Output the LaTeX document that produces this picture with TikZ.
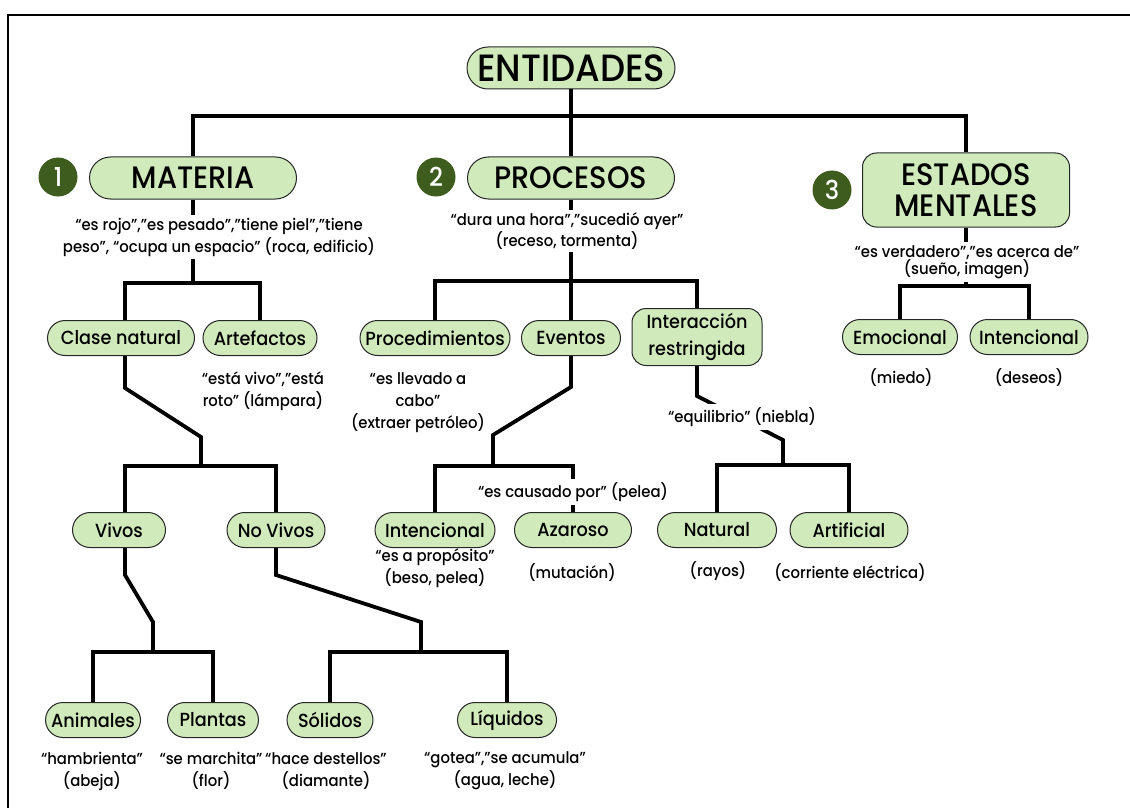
\documentclass[tikz,border=0pt]{standalone}
\usepackage{fontspec}
\setmainfont{Poppins Medium}[FakeStretch=0.93]
\usetikzlibrary{shapes.misc}
\definecolor{hojaverde}{RGB}{208,234,188}
\definecolor{verdeoscuro}{RGB}{62,92,30}

\begin{document}
\begin{tikzpicture}[x=0.5pt,y=-0.5pt,
	every node/.style={inner sep=0pt},
	pill/.style={rounded rectangle, draw=black!85, line width=0.5pt, fill=hojaverde, font=\fontsize{9.5}{11}\selectfont, minimum height=17.5pt},
	bigpill/.style={pill, font=\fontsize{15.5}{18}\selectfont, minimum height=21pt, minimum width=103.5pt},
	roundbox/.style={rectangle, rounded corners=7pt, draw=black!85, line width=0.5pt, fill=hojaverde, align=center},
	nota/.style={align=center, font=\fontsize{8}{11}\selectfont},
	notaapretada/.style={nota, font=\fontsize{8}{8.6}\selectfont},
	sobre/.style={fill=white, inner sep=1.5pt},
	rama/.style={line width=1.9pt},
	numero/.style={circle, fill=verdeoscuro, text=white, minimum size=19.5pt, font=\fontsize{13}{13}\selectfont}]
	\useasboundingbox (0,0) rectangle (1130,808);
	\draw[line width=1.3pt] (8,808) -- (8,15) -- (1130,15);

	\node[bigpill, font=\fontsize{19}{22}\selectfont, minimum width=104pt] (entidades) at (571,68) {ENTIDADES};
	\node[bigpill] (materia) at (193,178) {MATERIA};
	\node[bigpill] (procesos) at (571,178) {PROCESOS};
	\node[roundbox, font=\fontsize{15.5}{15.5}\selectfont, minimum width=103.5pt, minimum height=37pt] (estados) at (966,190) {ESTADOS\\MENTALES};
	\foreach \n/\x/\y in {1/58/177, 2/436/177, 3/832/190}
		\node[numero] (num\n) at (\x,\y) {\n};

	\node[pill, minimum width=73.5pt] (clase) at (121,338) {Clase natural};
	\node[pill, minimum width=57pt] (artefactos) at (260,338) {Artefactos};
	\node[pill, minimum width=75pt] (procedimientos) at (435,338) {Procedimientos};
	\node[pill, minimum width=49.5pt] (eventos) at (571,338) {Eventos};
	\node[roundbox, font=\fontsize{9.5}{13.5}\selectfont, minimum width=65pt, minimum height=28.5pt] (interaccion) at (697,337) {Interacción\\restringida};
	\node[pill, minimum width=57.5pt] (emocional) at (900,337) {Emocional};
	\node[pill, minimum width=59pt] (intencionalm) at (1029,337) {Intencional};

	\node[pill, minimum width=46.5pt] (vivos) at (119,530) {Vivos};
	\node[pill, minimum width=49pt] (novivos) at (276,530) {No Vivos};
	\node[pill, minimum width=60pt] (intencionalp) at (435,530) {Intencional};
	\node[pill, minimum width=58.5pt] (azaroso) at (573,530) {Azaroso};
	\node[pill, minimum width=59.5pt] (natural) at (717,530) {Natural};
	\node[pill, minimum width=59pt] (artificial) at (849,530) {Artificial};

	\node[pill, minimum width=47.5pt] (animales) at (93,720) {Animales};
	\node[pill, minimum width=45.5pt] (plantas) at (213,720) {Plantas};
	\node[pill, minimum width=43pt] (solidos) at (330,720) {Sólidos};
	\node[pill, minimum width=49.5pt] (liquidos) at (507,720) {Líquidos};

	\coordinate (k1) at (571,116);
	\coordinate (k2) at (193,283);
	\coordinate (k3) at (571,281);
	\coordinate (k4) at (966,286);
	\coordinate (k5) at (201,466);
	\coordinate (k6) at (493,466);
	\coordinate (k7) at (783,465);
	\coordinate (k8) at (153,652);
	\coordinate (k9) at (421,652);

	\draw[rama] (entidades.south) -- (procesos.north);
	\draw[rama] (materia.north) |- (k1) -| (estados.north);
	\draw[rama] (materia.south) -- (k2);
	\draw[rama] ([xshift=2pt]clase.north) |- (k2) -| (artefactos.north);
	\draw[rama] (procesos.south) -- (eventos.north);
	\draw[rama] (procedimientos.north) |- (k3) -| (interaccion.north);
	\draw[rama] (estados.south) -- (k4);
	\draw[rama] (emocional.north) |- (k4) -| (intencionalm.north);
	\draw[rama] ([xshift=2pt]clase.south) -- ++(0,32) -- (201,437) -- (k5);
	\draw[rama] ([xshift=3pt]vivos.north) |- (k5) -| (novivos.north);
	\draw[rama] (eventos.south) -- ++(0,31) -- (493,435) -- (k6);
	\draw[rama] (intencionalp.north) |- (k6) -| (azaroso.north);
	\draw[rama] (interaccion.south) -- ++(0,30) -- (783,440) -- (k7);
	\draw[rama] (natural.north) |- (k7) -| (artificial.north);
	\draw[rama] ([xshift=3pt]vivos.south) -- ++(0,27) -- (153,622) -- (k8);
	\draw[rama] (animales.north) |- (k8) -| (plantas.north);
	\draw[rama] (novivos.south) -- ++(0,27) -- (421,622) -- (k9);
	\draw[rama] (solidos.north) |- (k9) -| (liquidos.north);

	\node[nota, sobre] (nmateria) at (219,237) {“es rojo”,”es pesado”,”tiene piel”,”tiene\\peso”, “ocupa un espacio” (roca, edificio)};
	\node[notaapretada, sobre] (nprocesos) at (567,231) {“dura una hora”,”sucedió ayer”\\(receso, tormenta)};
	\node[notaapretada, sobre] (nestados) at (967,262) {“es verdadero”,”es acerca de”\\(sueño, imagen)};
	\node[nota] (nartefactos) at (263,391) {“está vivo”,”está\\roto” (lámpara)};
	\node[nota] (nprocedimientos) at (418,403) {“es llevado a\\cabo”\\(extraer petróleo)};
	\node[nota] (nmiedo) at (901,378) {(miedo)};
	\node[nota] (ndeseos) at (1029,378) {(deseos)};
	\node[nota, sobre] (nequilibrio) at (742,417) {“equilibrio” (niebla)};
	\node[nota, sobre] (ncausado) at (573,492) {“es causado por” (pelea)};
	\node[nota] (nproposito) at (435,568) {“es a propósito”\\(beso, pelea)};
	\node[nota] (nmutacion) at (572,573) {(mutación)};
	\node[nota] (nrayos) at (718,571) {(rayos)};
	\node[nota] (ncorriente) at (850,573) {(corriente eléctrica)};
	\node[nota] (nhambrienta) at (92,771) {“hambrienta”\\(abeja)};
	\node[nota] (nmarchita) at (211,771) {“se marchita”\\(flor)};
	\node[nota] (ndestellos) at (326,771) {“hace destellos”\\(diamante)};
	\node[nota] (ngotea) at (505,771) {“gotea”,”se acumula”\\(agua, leche)};
\end{tikzpicture}
\end{document}
